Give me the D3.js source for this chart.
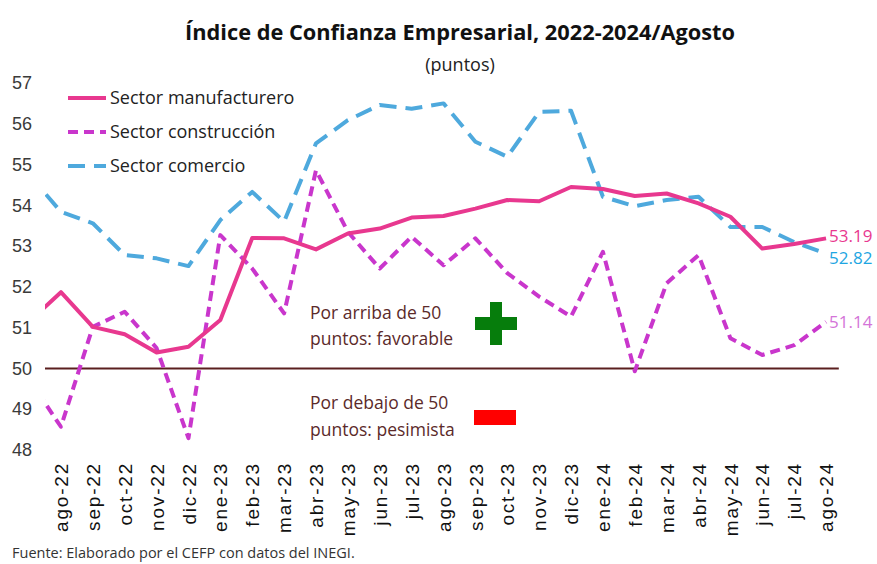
<!DOCTYPE html>
<html lang="es">
<head>
<meta charset="UTF-8">
<title>Índice de Confianza Empresarial</title>
<script src="https://d3js.org/d3.v7.min.js"></script>
<style>
    body { margin: 0; background: #fff; }
    svg { display: block; font-family: "Open Sans", "DejaVu Sans", sans-serif; }
</style>
</head>
<body>
<svg width="877" height="564"></svg>
<script>
// months: the first one (jul-22) sits left of the plot and is clipped, like the original
const months = ["jul-22", "ago-22", "sep-22", "oct-22", "nov-22", "dic-22", "ene-23", "feb-23", "mar-23",
    "abr-23", "may-23", "jun-23", "jul-23", "ago-23", "sep-23", "oct-23", "nov-23", "dic-23",
    "ene-24", "feb-24", "mar-24", "abr-24", "may-24", "jun-24", "jul-24", "ago-24"];

const manufacturero = [51.14, 51.87, 51.02, 50.84, 50.39, 50.53, 51.19, 53.20, 53.19, 52.92, 53.31, 53.43,
    53.70, 53.74, 53.92, 54.13, 54.10, 54.45, 54.40, 54.23, 54.29, 54.05, 53.72, 52.94, 53.05, 53.19];
const construccion = [49.73, 48.57, 51.02, 51.39, 50.50, 48.29, 53.27, 52.45, 51.35, 54.86, 53.35, 52.45,
    53.23, 52.53, 53.19, 52.34, 51.76, 51.27, 52.86, 49.93, 52.09, 52.78, 50.74, 50.33, 50.57, 51.14];
const comercio = [54.75, 53.84, 53.56, 52.78, 52.70, 52.51, 53.64, 54.33, 53.60, 55.52, 56.09, 56.46,
    56.37, 56.50, 55.56, 55.19, 56.29, 56.32, 54.21, 53.98, 54.13, 54.21, 53.47, 53.47, 53.10, 52.82];

const yTicks = [48, 49, 50, 51, 52, 53, 54, 55, 56, 57];

const series = [
    {name: "Sector manufacturero", values: manufacturero, color: "#e8388f", dash: null, label: "53.19", labelColor: "#e8388f", dy: -2},
    {name: "Sector construcción", values: construccion, color: "#c936cc", dash: "10,6", label: "51.14", labelColor: "#d474d8", dy: 0},
    {name: "Sector comercio", values: comercio, color: "#4ea9dd", dash: "17,9", label: "52.82", labelColor: "#1ea6e2", dy: 5}
];

const svg = d3.select("svg");
const plotL = 45, plotR = 842, plotT = 83, plotB = 450;

// index 0 = ago-22 (first labelled month); jul-22 is index -1
const x = d3.scaleLinear().domain([-0.5, 24.5]).range([plotL, plotR]);
const y = d3.scaleLinear().domain([48, 57]).range([plotB, plotT]);

svg.append("defs").append("clipPath").attr("id", "plot")
    .append("rect")
    .attr("x", plotL).attr("y", 0)
    .attr("width", plotR - plotL + 10).attr("height", 564);

// Title
svg.append("text")
    .attr("x", 460).attr("y", 40)
    .attr("text-anchor", "middle")
    .attr("textLength", 550).attr("lengthAdjust", "spacingAndGlyphs")
    .style("font-size", "22px").style("font-weight", "bold").style("fill", "#111")
    .text("Índice de Confianza Empresarial, 2022-2024/Agosto");

svg.append("text")
    .attr("x", 460).attr("y", 71)
    .attr("text-anchor", "middle")
    .style("font-size", "18px").style("fill", "#222")
    .text("(puntos)");

// Y axis
const yAxis = svg.append("g")
    .attr("transform", `translate(${plotL},0)`)
    .call(d3.axisLeft(y).tickValues(yTicks).tickSize(0).tickPadding(13).tickFormat(d3.format("d")));
yAxis.select(".domain").remove();
yAxis.selectAll("text").style("font-size", "18px").style("fill", "#3a3a3a").style("font-family", "inherit");

// X axis (rotated month labels)
const xAxis = svg.append("g")
    .attr("transform", `translate(0,${plotB + 10})`)
    .call(d3.axisBottom(x).tickValues(d3.range(0, 25)).tickSize(0).tickPadding(0)
        .tickFormat(i => months[i + 1]));
xAxis.select(".domain").remove();
xAxis.selectAll("text")
    .attr("transform", "rotate(-90)")
    .attr("text-anchor", "end")
    .attr("x", -2).attr("y", 0).attr("dy", "0.35em")
    .style("font-size", "19px").style("letter-spacing", "1.8px")
    .style("fill", "#111").style("font-family", "inherit");

// 50 reference line
svg.append("line")
    .attr("x1", x(-0.5)).attr("x2", x(24.4))
    .attr("y1", y(50)).attr("y2", y(50))
    .style("stroke", "#5a1f1f").style("stroke-width", 2);

// Lines
const line = d3.line()
    .x((d, i) => x(i - 1))
    .y(d => y(d));

const lines = svg.append("g").attr("clip-path", "url(#plot)");
series.slice().reverse().forEach(s => {
    lines.append("path")
        .datum(s.values)
        .attr("d", line)
        .style("fill", "none")
        .style("stroke", s.color)
        .style("stroke-width", 4)
        .style("stroke-linejoin", "round")
        .style("stroke-dasharray", s.dash);
});

// End labels
series.forEach(s => {
    const last = s.values.length - 1;
    svg.append("text")
        .attr("x", x(last - 1) + 3)
        .attr("y", y(s.values[last]) + s.dy)
        .attr("dy", "0.35em")
        .style("font-size", "17px")
        .style("fill", s.labelColor)
        .text(s.label);
});

// Legend
const legend = svg.append("g").attr("transform", "translate(68,98)");
series.forEach((s, i) => {
    legend.append("line")
        .attr("x1", 0).attr("x2", 38)
        .attr("y1", i * 34).attr("y2", i * 34)
        .style("stroke", s.color).style("stroke-width", 4)
        .style("stroke-dasharray", s.dash);
    legend.append("text")
        .attr("x", 42).attr("y", i * 34).attr("dy", "0.35em")
        .style("font-size", "18px").style("fill", "#222")
        .text(s.name);
});

// Annotations
const note = svg.append("g").style("font-size", "17.5px").style("fill", "#5b2a2a");
note.append("text").attr("x", 310).attr("y", 319).text("Por arriba de 50");
note.append("text").attr("x", 310).attr("y", 345).text("puntos: favorable");
note.append("text").attr("x", 310).attr("y", 409).text("Por debajo de 50");
note.append("text").attr("x", 310).attr("y", 436).text("puntos: pesimista");

svg.append("rect").attr("x", 490).attr("y", 302).attr("width", 12).attr("height", 43).style("fill", "#067d0c");
svg.append("rect").attr("x", 475).attr("y", 317).attr("width", 42).attr("height", 13).style("fill", "#067d0c");
svg.append("rect").attr("x", 474).attr("y", 410).attr("width", 42).attr("height", 15).style("fill", "#ff0000");

// Source
svg.append("text")
    .attr("x", 12).attr("y", 558)
    .style("font-size", "14.5px").style("fill", "#333")
    .text("Fuente: Elaborado por el CEFP con datos del INEGI.");
</script>
</body>
</html>
